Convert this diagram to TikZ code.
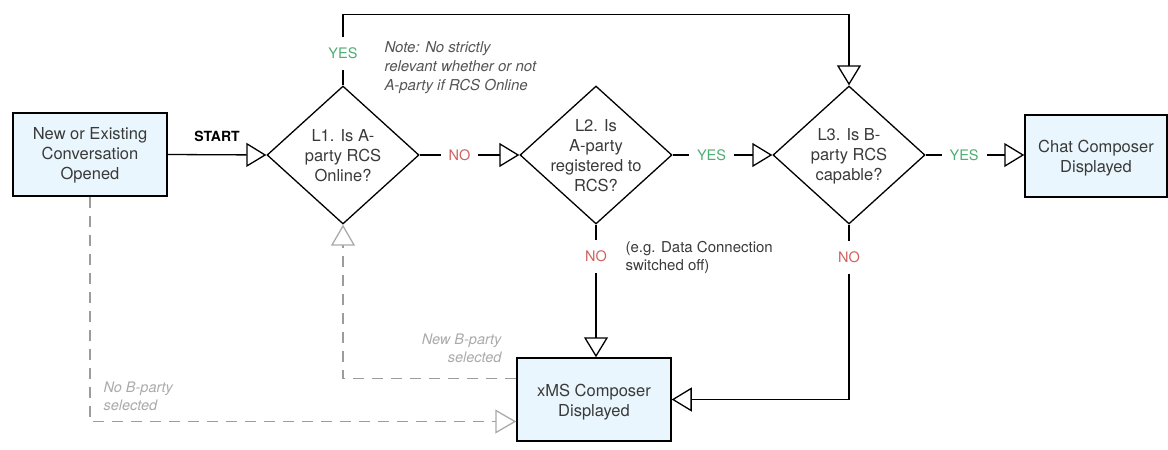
\documentclass[tikz,border=0pt]{standalone}
\usepackage{fontspec}
\setmainfont{TeX Gyre Heros}
\usetikzlibrary{arrows.meta,shapes.geometric}

\definecolor{ink}{HTML}{3A3A3A}
\definecolor{boxfill}{HTML}{EAF6FD}
\definecolor{yesgreen}{HTML}{4FAE74}
\definecolor{nored}{HTML}{CF6260}
\definecolor{dashgray}{HTML}{9C9C9C}
\definecolor{notegray}{HTML}{555555}
\definecolor{hintgray}{HTML}{AAAAAA}

\begin{document}
\begin{tikzpicture}[x=1pt,y=-1pt,
  font=\fontsize{16.5}{20}\selectfont, text=ink,
  box/.style={draw=black, line width=1.5pt, fill=boxfill, inner sep=0pt,
    minimum width=154pt, minimum height=83pt},
  decision/.style={diamond, draw=black, line width=1.3pt, inner sep=0pt,
    minimum width=152pt, minimum height=138pt},
  flow/.style={draw=black, line width=1.3pt,
    -{Triangle[open, length=20pt, width=24pt]}},
  dashflow/.style={draw=dashgray, line width=1.3pt, dash pattern=on 11pt off 8pt,
    -{Triangle[open, length=21pt, width=24pt, color=hintgray]}},
  lbl/.style={fill=white, inner xsep=8pt, inner ysep=11pt,
    font=\fontsize{14.5}{17}\selectfont},
  yes/.style={lbl, text=yesgreen},
  no/.style={lbl, text=nored},
  note/.style={font=\itshape\fontsize{15}{19}\selectfont, text=notegray, align=left},
  hint/.style={font=\itshape\fontsize{14.5}{18}\selectfont, text=hintgray},
  aside/.style={font=\fontsize{15}{18}\selectfont, text=ink, align=left}
]
\useasboundingbox (0,0) rectangle (1168,450);

% process boxes
\node[box] (start) at (90,154.5) {};
\node[align=center] at (90,155.5) {New or Existing\\Conversation\\Opened};
\node[box, minimum width=142pt, minimum height=82pt] (chat) at (1096,156) {};
\node[align=center] at (1096,158) {Chat Composer\\Displayed};
\node[box] (xms) at (594,399.5) {};
\node[align=center] at (594,402) {xMS Composer\\Displayed};

% decisions
\node[decision] (L1) at (343,155) {};
\node[align=center] at (343,156) {L1. Is A-\\party RCS\\Online?};
\node[decision] (L2) at (596,155) {};
\node[align=center] at (596,156) {L2. Is\\A-party\\registered to\\RCS?};
\node[decision] (L3) at (849,155) {};
\node[align=center] at (849,156) {L3. Is B-\\party RCS\\capable?};

% main flow
\draw[flow] (start.east) -- node[above=9pt, font=\bfseries\fontsize{14}{17}\selectfont, text=black] {START} (L1.west);
\draw[flow] (L1.east) -- node[no, pos=0.4] {NO} (L2.west);
\draw[flow] (L2.east) -- node[yes, pos=0.39] {YES} (L3.west);
\draw[flow] (L3.east) -- node[yes, pos=0.39] {YES} (L3.east -| chat.west);
\draw[flow] (L1.north) -- node[yes, pos=0.45] {YES} ++(0,-71) -| (L3.north);
\draw[flow] (L2.south) -- node[no, pos=0.24] {NO} (L2.south |- xms.north);
\draw[flow] (L3.south) |- node[no, pos=0.093] {NO} (xms.east);

% alternative paths
\draw[dashflow] (start.south) |- ([yshift=-22pt]xms.west);
\draw[dashflow] ([yshift=21pt]xms.west) -| (L1.south);

% annotations
\node[note, anchor=west] (n1) at (381,68) {Note: No strictly\\relevant whether or not\\A-party if RCS Online};
\node[aside, anchor=west] (n2) at (622,257) {(e.g. Data Connection\\switched off)};
\node[hint, anchor=east, align=right] (n3) at (505,348) {New B-party\\selected};
\node[hint, anchor=west, align=left] (n4) at (100,396) {No B-party\\selected};
\end{tikzpicture}
\end{document}
